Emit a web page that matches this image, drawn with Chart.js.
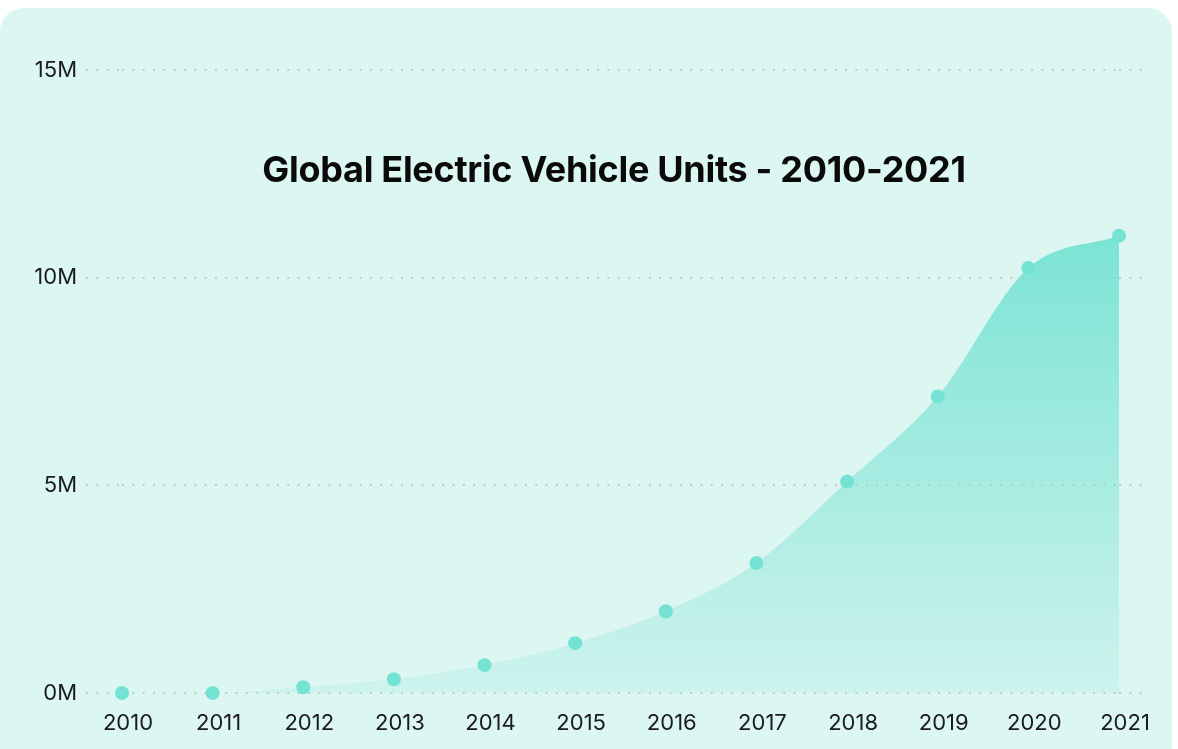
<!DOCTYPE html>
<html>
<head>
<meta charset="utf-8">
<script src="https://cdn.jsdelivr.net/npm/chart.js@4.4.1/dist/chart.umd.min.js"></script>
<style>
  html, body { margin: 0; padding: 0; background: #ffffff; width: 1178px; height: 749px; overflow: hidden; }
  #card { position: absolute; left: 0; top: 8px; width: 1172px; height: 780px; border-radius: 24px; background: #dcf6f2; }
  #wrap { position: absolute; left: 0; top: 0; width: 1178px; height: 749px; }
  #title { position: absolute; left: 0; width: 1228px; top: 147px; text-align: center; font-family: Inter, "Noto Sans", sans-serif; font-weight: 700; font-size: 36px; line-height: 44px; color: #0a0a0a; letter-spacing: -0.3px; margin: 0; pointer-events: none; }
</style>
</head>
<body>
<div id="card"></div>
<div id="wrap"><canvas id="c" width="1178" height="749"></canvas></div>
<h1 id="title">Global Electric Vehicle Units - 2010-2021</h1>
<script>
const years = ['2010','2011','2012','2013','2014','2015','2016','2017','2018','2019','2020','2021'];
const evUnits = [0, 0, 0.14e6, 0.33e6, 0.67e6, 1.2e6, 1.97e6, 3.13e6, 5.09e6, 7.14e6, 10.23e6, 11.01e6];
const yTicks = [0, 5e6, 10e6, 15e6];
const yTickLabels = ['0M', '5M', '10M', '15M'];

const tickFont = { family: 'Inter, "Noto Sans", sans-serif', size: 22, weight: '400' };
const gridColor = '#c3cbca';
const dots = [2, 8.33];

function fillGradient(ctx) {
  const chart = ctx.chart;
  const { chartArea, scales } = chart;
  if (!chartArea) return 'rgba(118,226,210,0.6)';
  const top = scales.y.getPixelForValue(11e6);
  const g = chart.ctx.createLinearGradient(0, top, 0, chartArea.bottom);
  g.addColorStop(0, 'rgba(118,226,210,0.95)');
  g.addColorStop(1, 'rgba(118,226,210,0.14)');
  return g;
}

function tickLabel(v) {
  const i = yTicks.indexOf(v);
  return i >= 0 ? yTickLabels[i] : '';
}

new Chart(document.getElementById('c'), {
  type: 'line',
  data: {
    labels: years,
    datasets: [{
      data: evUnits,
      fill: 'origin',
      backgroundColor: fillGradient,
      borderColor: 'rgba(0,0,0,0)',
      borderWidth: 0,
      cubicInterpolationMode: 'monotone',
      pointRadius: 7,
      pointHoverRadius: 7,
      pointBackgroundColor: '#74e3d3',
      pointBorderWidth: 0,
      clip: false
    }]
  },
  options: {
    responsive: false,
    animation: false,
    layout: { padding: { top: 70, left: 0, right: 0, bottom: 0 } },
    plugins: { legend: { display: false }, tooltip: { enabled: false }, title: { display: false } },
    scales: {
      x: {
        offset: false,
        grid: { display: false },
        border: { display: false },
        ticks: { font: tickFont, color: '#1b1b1b', padding: 9, labelOffset: 6, maxRotation: 0, autoSkip: false },
        afterFit: s => { s.height = 56; }
      },
      y: {
        position: 'left',
        min: 0, max: 15e6,
        afterBuildTicks: s => { s.ticks = yTicks.map(v => ({ value: v })); },
        grid: { color: gridColor, lineWidth: 2, tickLength: 36, tickColor: gridColor, tickBorderDash: dots, drawTicks: true },
        border: { display: false, dash: dots },
        ticks: { font: tickFont, color: '#1b1b1b', padding: 9, callback: v => tickLabel(v) },
        afterFit: s => { s.width = 122; }
      },
      y2: {
        position: 'right',
        min: 0, max: 15e6,
        afterBuildTicks: s => { s.ticks = yTicks.map(v => ({ value: v })); },
        grid: { drawOnChartArea: false, color: gridColor, lineWidth: 2, tickLength: 31, tickColor: gridColor, tickBorderDash: dots, drawTicks: true },
        border: { display: false },
        ticks: { display: false },
        afterFit: s => { s.width = 59; }
      }
    }
  }
});
</script>
</body>
</html>
